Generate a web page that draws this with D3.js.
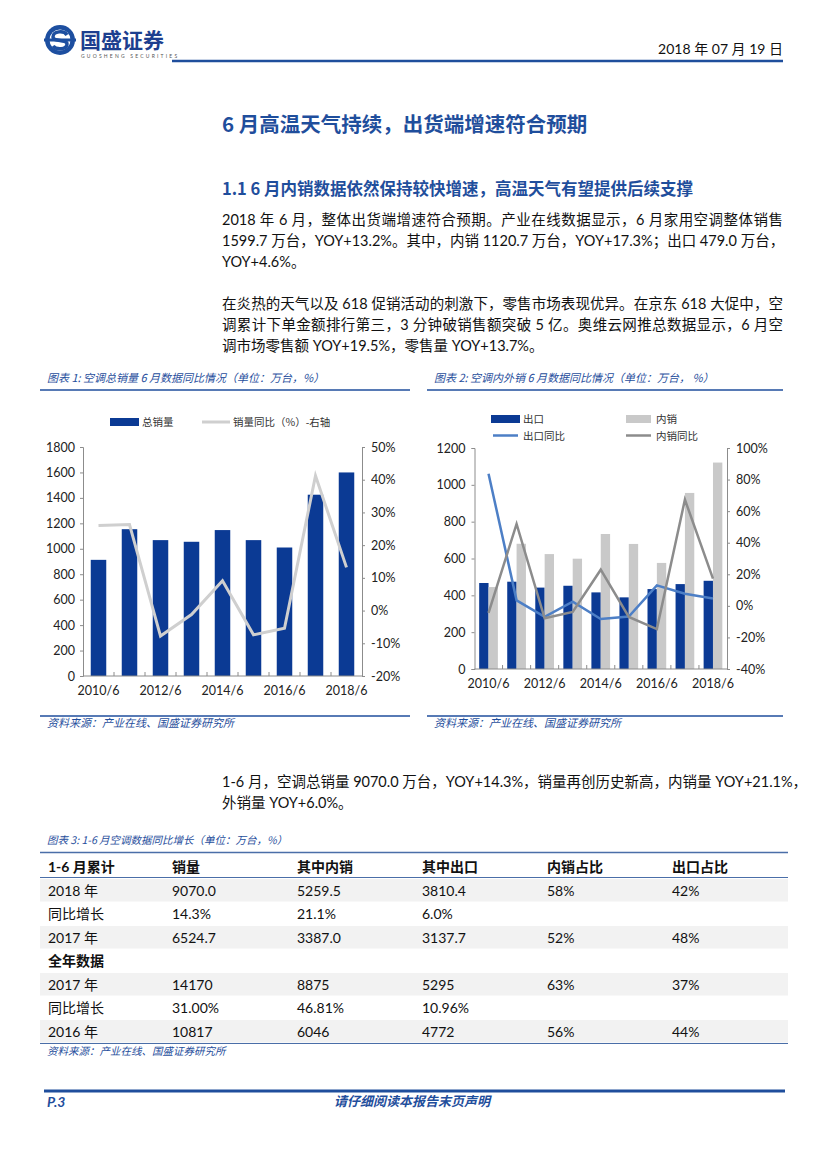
<!DOCTYPE html>
<html>
<head>
<meta charset="utf-8">
<script src="https://cdn.jsdelivr.net/npm/d3@7"></script>
<style>
  body { margin: 0; background: #fff; }
  #page { position: relative; width: 827px; height: 1169px; overflow: hidden; }
  svg { position: absolute; left: 0; top: 0; }
  .para { position: absolute; left: 222px; width: 561px; font-family: "Lato", "Noto Sans CJK SC", sans-serif; font-size: 14.5px; line-height: 21px; color: #111; }
  .para div { text-align: justify; text-align-last: justify; white-space: nowrap; }
  .para div.last { text-align-last: left; }
</style>
</head>
<body>
<div id="page">
<svg width="827" height="1169"></svg>
<div class="para" style="top:209px">
  <div>2018 年 6 月，整体出货端增速符合预期。产业在线数据显示，6 月家用空调整体销售</div>
  <div>1599.7 万台，YOY+13.2%。其中，内销 1120.7 万台，YOY+17.3%；出口 479.0 万台，</div>
  <div class="last">YOY+4.6%。</div>
</div>
<div class="para" style="top:293px">
  <div>在炎热的天气以及 618 促销活动的刺激下，零售市场表现优异。在京东 618 大促中，空</div>
  <div>调累计下单金额排行第三，3 分钟破销售额突破 5 亿。奥维云网推总数据显示，6 月空</div>
  <div class="last">调市场零售额 YOY+19.5%，零售量 YOY+13.7%。</div>
</div>
<div class="para" style="top:771px">
  <div>1-6 月，空调总销量 9070.0 万台，YOY+14.3%，销量再创历史新高，内销量 YOY+21.1%，</div>
  <div class="last">外销量 YOY+6.0%。</div>
</div>
</div>
<script>
var svg = d3.select('svg');

var blue = '#0b3a94';
var headBlue = '#1f4e9c';
var latin = '"Lato", "Noto Sans CJK SC", sans-serif';
var cjk = '"Noto Sans CJK SC", sans-serif';

// ---- data ----
var years = ['2010/6', '2011/6', '2012/6', '2013/6', '2014/6', '2015/6', '2016/6', '2017/6', '2018/6'];
var totalSales = [913, 1154, 1068, 1055, 1147, 1068, 1010, 1425, 1600];
var totalYoy = [26.0, 26.3, -7.8, -1.2, 9.1, -7.4, -5.4, 41.2, 13.2];
var exportSales = [467, 474, 442, 452, 416, 389, 434, 461, 479];
var domesticSales = [445, 680, 624, 599, 733, 679, 576, 956, 1121];
var exportYoy = [83.7, 3.5, -7.0, 2.7, -8.3, -6.8, 13.0, 7.7, 4.6];
var domesticYoy = [-4.5, 51.9, -7.9, -3.9, 22.9, -7.0, -14.7, 67.3, 17.3];

var tableHead = ['1-6 月累计', '销量', '其中内销', '其中出口', '内销占比', '出口占比'];
var tableRows = [
  ['2018 年', '9070.0', '5259.5', '3810.4', '58%', '42%'],
  ['同比增长', '14.3%', '21.1%', '6.0%', '', ''],
  ['2017 年', '6524.7', '3387.0', '3137.7', '52%', '48%'],
  ['全年数据', '', '', '', '', ''],
  ['2017 年', '14170', '8875', '5295', '63%', '37%'],
  ['同比增长', '31.00%', '46.81%', '10.96%', '', ''],
  ['2016 年', '10817', '6046', '4772', '56%', '44%']
];

// ---- header ----
var logo = svg.append('g').attr('transform', 'translate(60,40)');
logo.append('circle').attr('r', 15).attr('fill', '#1d4fa0');
logo.append('circle').attr('r', 10.5).attr('fill', '#fff');
logo.append('path')
  .attr('d', 'M7,-5 C4,-10 -7,-9 -7,-3 C-7,2 7,-1 7,4 C7,10 -4,10 -7,6')
  .attr('fill', 'none').attr('stroke', '#1d4fa0').attr('stroke-width', 3.5);
logo.append('rect').attr('x', -16).attr('y', -1.5).attr('width', 32).attr('height', 3).attr('fill', '#1d4fa0');
svg.append('text').attr('x', 80).attr('y', 48).text('国盛证券')
  .attr('font-family', cjk).attr('font-weight', 700).attr('font-size', 21).attr('fill', '#1d3f8f');
svg.append('text').attr('x', 81).attr('y', 58).text('GUOSHENG SECURITIES')
  .attr('font-family', latin).attr('font-size', 5).attr('letter-spacing', 2.2).attr('fill', '#555');
svg.append('text').attr('x', 783).attr('y', 54).attr('text-anchor', 'end').text('2018 年 07 月 19 日')
  .attr('font-family', latin).attr('font-size', 14).attr('fill', '#111');
svg.append('line').attr('x1', 172).attr('x2', 783).attr('y1', 61).attr('y2', 61)
  .attr('stroke', headBlue).attr('stroke-width', 2.5);

svg.append('text').attr('x', 222).attr('y', 132).text('6 月高温天气持续，出货端增速符合预期')
  .attr('font-family', cjk).attr('font-weight', 700).attr('font-size', 20.5).attr('fill', headBlue);
svg.append('text').attr('x', 222).attr('y', 195).text('1.1 6 月内销数据依然保持较快增速，高温天气有望提供后续支撑')
  .attr('font-family', cjk).attr('font-weight', 700).attr('font-size', 16.5).attr('fill', headBlue);

// ---- helpers ----
function frame(x0, x1, title) {
  svg.append('text').attr('x', x0 + 7).attr('y', 382).text(title)
    .attr('font-family', cjk).attr('font-style', 'italic').attr('font-size', 11).attr('fill', headBlue);
  svg.append('line').attr('x1', x0).attr('x2', x1).attr('y1', 390).attr('y2', 390)
    .attr('stroke', headBlue).attr('stroke-width', 1.5);
  svg.append('line').attr('x1', x0).attr('x2', x1).attr('y1', 716).attr('y2', 716)
    .attr('stroke', headBlue).attr('stroke-width', 1.5);
  svg.append('text').attr('x', x0 + 7).attr('y', 727).text('资料来源：产业在线、国盛证券研究所')
    .attr('font-family', cjk).attr('font-style', 'italic').attr('font-size', 11).attr('fill', headBlue);
}

function styleAxis(g) {
  g.select('.domain').attr('stroke', '#8c8c8c');
  g.selectAll('.tick line').attr('stroke', '#8c8c8c');
  g.selectAll('.tick text').attr('font-family', latin).attr('font-size', 12.5).attr('fill', '#222');
}

function xAxisDraw(x, y0) {
  var g = svg.append('g').attr('transform', 'translate(0,' + y0 + ')');
  g.append('line').attr('x1', x.range()[0]).attr('x2', x.range()[1]).attr('stroke', '#8c8c8c');
  years.forEach(function (d, i) {
    var bx = x.range()[0] + x.step() * i;
    if (i > 0) g.append('line').attr('x1', bx).attr('x2', bx).attr('y1', 0).attr('y2', -4).attr('stroke', '#8c8c8c');
    if (i % 2 === 0) {
      g.append('text').attr('x', bx + x.step() / 2).attr('y', 19).attr('text-anchor', 'middle').text(d)
        .attr('font-family', latin).attr('font-size', 12.5).attr('fill', '#222');
    }
  });
}

// ---- chart 1 ----
frame(40, 410, '图表 1:  空调总销量 6 月数据同比情况（单位：万台，%）');

var x1 = d3.scaleBand().domain(years).range([83, 362]).paddingInner(0.5).paddingOuter(0.25);
var yL1 = d3.scaleLinear().domain([0, 1800]).range([676, 447]);
var yR1 = d3.scaleLinear().domain([-20, 50]).range([676, 447]);

svg.append('g').attr('transform', 'translate(83,0)')
  .call(d3.axisLeft(yL1).tickValues(d3.range(0, 1801, 200)).tickSize(3).tickPadding(5).tickFormat(d3.format('d')))
  .call(styleAxis);
svg.append('g').attr('transform', 'translate(362,0)')
  .call(d3.axisRight(yR1).tickValues(d3.range(-20, 51, 10)).tickSize(3).tickPadding(6)
    .tickFormat(function (d) { return d + '%'; }))
  .call(styleAxis);

svg.append('g').selectAll('rect').data(totalSales).enter().append('rect')
  .attr('x', function (d, i) { return x1(years[i]); })
  .attr('y', function (d) { return yL1(d); })
  .attr('width', x1.bandwidth())
  .attr('height', function (d) { return yL1(0) - yL1(d); })
  .attr('fill', blue);

xAxisDraw(x1, 676);

svg.append('path').datum(totalYoy)
  .attr('d', d3.line()
    .x(function (d, i) { return x1(years[i]) + x1.bandwidth() / 2; })
    .y(function (d) { return yR1(d); }))
  .attr('fill', 'none').attr('stroke', '#cfcfcf').attr('stroke-width', 3);

// legend 1
svg.append('rect').attr('x', 110).attr('y', 418).attr('width', 29).attr('height', 8).attr('fill', blue);
svg.append('text').attr('x', 142).attr('y', 426).text('总销量')
  .attr('font-family', cjk).attr('font-size', 10.5).attr('fill', '#333');
svg.append('line').attr('x1', 202).attr('x2', 230).attr('y1', 422).attr('y2', 422)
  .attr('stroke', '#cfcfcf').attr('stroke-width', 3);
svg.append('text').attr('x', 233).attr('y', 426).text('销量同比（%）-右轴')
  .attr('font-family', cjk).attr('font-size', 10.5).attr('fill', '#333');

// ---- chart 2 ----
frame(427, 783, '图表 2:  空调内外销 6 月数据同比情况（单位：万台，  %）');

var x2 = d3.scaleBand().domain(years).range([474.5, 727]);
var x2in = d3.scaleBand().domain(['出口', '内销']).range([0, x2.bandwidth()]).paddingOuter(0.5);
var yL2 = d3.scaleLinear().domain([0, 1200]).range([669, 448]);
var yR2 = d3.scaleLinear().domain([-40, 100]).range([669, 448]);

svg.append('g').attr('transform', 'translate(474.5,0)')
  .call(d3.axisLeft(yL2).tickValues(d3.range(0, 1201, 200)).tickSize(3).tickPadding(6).tickFormat(d3.format('d')))
  .call(styleAxis);
svg.append('g').attr('transform', 'translate(727,0)')
  .call(d3.axisRight(yR2).tickValues(d3.range(-40, 101, 20)).tickSize(3).tickPadding(6)
    .tickFormat(function (d) { return d + '%'; }))
  .call(styleAxis);

var groups = svg.append('g').selectAll('g').data(years).enter().append('g')
  .attr('transform', function (d) { return 'translate(' + x2(d) + ',0)'; });
groups.append('rect')
  .attr('x', x2in('出口'))
  .attr('y', function (d, i) { return yL2(exportSales[i]); })
  .attr('width', x2in.bandwidth())
  .attr('height', function (d, i) { return yL2(0) - yL2(exportSales[i]); })
  .attr('fill', blue);
groups.append('rect')
  .attr('x', x2in('内销'))
  .attr('y', function (d, i) { return yL2(domesticSales[i]); })
  .attr('width', x2in.bandwidth())
  .attr('height', function (d, i) { return yL2(0) - yL2(domesticSales[i]); })
  .attr('fill', '#c9c9c9');

xAxisDraw(x2, 669);

var line2 = d3.line()
  .x(function (d, i) { return x2(years[i]) + x2.bandwidth() / 2; })
  .y(function (d) { return yR2(d); });
svg.append('path').datum(exportYoy).attr('d', line2)
  .attr('fill', 'none').attr('stroke', '#4d7fc6').attr('stroke-width', 2.5);
svg.append('path').datum(domesticYoy).attr('d', line2)
  .attr('fill', 'none').attr('stroke', '#8c8c8c').attr('stroke-width', 2.5);

// legend 2
svg.append('rect').attr('x', 491).attr('y', 415).attr('width', 29).attr('height', 8).attr('fill', blue);
svg.append('text').attr('x', 523).attr('y', 423).text('出口')
  .attr('font-family', cjk).attr('font-size', 10.5).attr('fill', '#333');
svg.append('rect').attr('x', 626).attr('y', 415).attr('width', 25).attr('height', 8).attr('fill', '#c9c9c9');
svg.append('text').attr('x', 656).attr('y', 423).text('内销')
  .attr('font-family', cjk).attr('font-size', 10.5).attr('fill', '#333');
svg.append('line').attr('x1', 493).attr('x2', 518).attr('y1', 435.5).attr('y2', 435.5)
  .attr('stroke', '#4d7fc6').attr('stroke-width', 2.5);
svg.append('text').attr('x', 523).attr('y', 440).text('出口同比')
  .attr('font-family', cjk).attr('font-size', 10.5).attr('fill', '#333');
svg.append('line').attr('x1', 626).attr('x2', 651).attr('y1', 435.5).attr('y2', 435.5)
  .attr('stroke', '#8c8c8c').attr('stroke-width', 2.5);
svg.append('text').attr('x', 656).attr('y', 440).text('内销同比')
  .attr('font-family', cjk).attr('font-size', 10.5).attr('fill', '#333');

// ---- table ----
var colX = [48, 172, 297, 422, 547, 672];
svg.append('text').attr('x', 47).attr('y', 844).text('图表 3:  1-6 月空调数据同比增长（单位：万台，%）')
  .attr('font-family', cjk).attr('font-style', 'italic').attr('font-size', 10.5).attr('fill', headBlue);
svg.append('line').attr('x1', 40).attr('x2', 788).attr('y1', 852.5).attr('y2', 852.5)
  .attr('stroke', '#4a6ea8').attr('stroke-width', 1.5);
svg.append('line').attr('x1', 40).attr('x2', 788).attr('y1', 877.5).attr('y2', 877.5)
  .attr('stroke', '#4a6ea8').attr('stroke-width', 1.2);
tableHead.forEach(function (h, j) {
  svg.append('text').attr('x', colX[j]).attr('y', 871.5).text(h)
    .attr('font-family', latin).attr('font-weight', 700).attr('font-size', 14).attr('fill', '#111');
});
var rowTop = 879, rowH = 23.5;
tableRows.forEach(function (r, i) {
  var yTop = rowTop + i * rowH;
  if (i % 2 === 0) {
    svg.append('rect').attr('x', 40).attr('y', yTop).attr('width', 748).attr('height', rowH - 1).attr('fill', '#f2f2f2');
  }
  r.forEach(function (c, j) {
    if (!c) return;
    svg.append('text').attr('x', colX[j]).attr('y', yTop + 16.5).text(c)
      .attr('font-family', latin).attr('font-size', 14)
      .attr('font-weight', c === '全年数据' ? 700 : 400).attr('fill', '#111');
  });
});
svg.append('line').attr('x1', 40).attr('x2', 788).attr('y1', 1043.5).attr('y2', 1043.5)
  .attr('stroke', '#4a6ea8').attr('stroke-width', 1.2);
svg.append('text').attr('x', 47).attr('y', 1055).text('资料来源：产业在线、国盛证券研究所')
  .attr('font-family', cjk).attr('font-style', 'italic').attr('font-size', 10.5).attr('fill', headBlue);

// ---- footer ----
svg.append('line').attr('x1', 44).attr('x2', 785).attr('y1', 1091).attr('y2', 1091)
  .attr('stroke', headBlue).attr('stroke-width', 3);
svg.append('text').attr('x', 47).attr('y', 1107).text('P.3')
  .attr('font-family', latin).attr('font-weight', 700).attr('font-style', 'italic').attr('font-size', 14).attr('fill', headBlue);
svg.append('text').attr('x', 412).attr('y', 1106).attr('text-anchor', 'middle').text('请仔细阅读本报告末页声明')
  .attr('font-family', cjk).attr('font-weight', 700).attr('font-style', 'italic').attr('font-size', 13).attr('fill', headBlue);
</script>
</body>
</html>
